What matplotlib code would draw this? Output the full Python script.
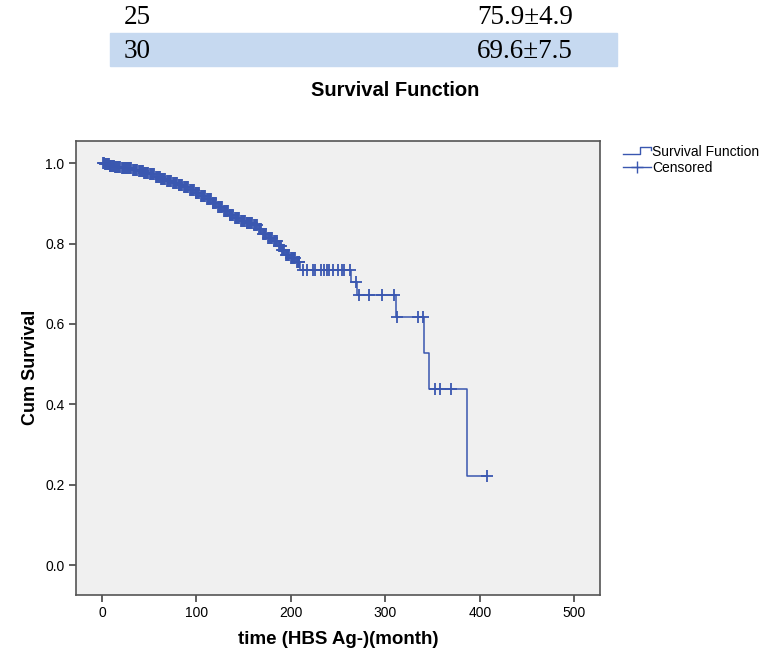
import numpy as np
import matplotlib
matplotlib.use('Agg')
import matplotlib.pyplot as plt
from matplotlib.lines import Line2D
from matplotlib.legend_handler import HandlerBase
from matplotlib.patches import Rectangle

# table rows shown above the chart
table_years = ['25', '30']
table_values = ['75.9\u00b14.9', '69.6\u00b17.5']

# Kaplan-Meier steps: event time (month) and survival after the event
event_t = [0, 3, 8, 14, 20, 26, 32, 38, 44, 50, 56, 62, 68, 74, 80, 86, 92, 98,
           104, 110, 116, 122, 128, 134, 140, 146, 152, 160, 165, 169, 175, 181,
           186, 190, 194, 199, 205, 210, 263, 270, 311, 341, 346, 386]
event_s = [1.0, 0.997, 0.994, 0.991, 0.989, 0.987, 0.984, 0.980, 0.976, 0.972,
           0.966, 0.960, 0.955, 0.951, 0.946, 0.940, 0.933, 0.926, 0.918, 0.910,
           0.901, 0.891, 0.881, 0.872, 0.864, 0.857, 0.852, 0.847, 0.836, 0.823,
           0.813, 0.806, 0.795, 0.785, 0.772, 0.765, 0.755, 0.734, 0.705, 0.671,
           0.616, 0.528, 0.439, 0.222]

# censored follow-up times (month)
censor_t = [1, 2, 3, 4, 5, 6, 7, 8, 9, 10, 11, 12, 13, 14, 15, 16, 17, 18, 19,
            21, 22, 23, 24, 25, 27, 28, 29, 30, 31, 33, 34, 35, 36, 37, 39, 40,
            41, 42, 43, 45, 46, 47, 48, 49, 51, 52, 53, 54, 55, 57, 58, 59, 60,
            61, 63, 64, 65, 66, 67, 69, 70, 71, 72, 73, 75, 76, 77, 78, 79, 81,
            82, 83, 84, 85, 87, 88, 89, 90, 91, 93, 94, 95, 96, 97, 99, 100, 101,
            102, 103, 105, 106, 107, 108, 109, 111, 112, 113, 114, 115, 117, 118,
            119, 120, 121, 123, 124, 125, 126, 127, 129, 130, 131, 132, 133, 135,
            136, 137, 138, 139, 141, 142, 143, 144, 145, 147, 148, 149, 150, 151,
            153, 154, 155, 156, 157, 158, 159, 161, 162, 163, 164, 166, 167, 168,
            170, 171, 172, 173, 174, 176, 177, 178, 179, 180, 182, 183, 184, 185,
            187, 188, 189, 191, 192, 193, 195, 196, 197, 198, 200, 201, 202, 203,
            204, 206, 207, 208, 209, 213, 217, 223, 225, 232, 235, 238, 240, 244,
            250, 254, 256, 262, 269, 272, 283, 296, 309, 312, 334, 340, 352, 358,
            369, 407]

col = '#3a57b0'


class HandlerStep(HandlerBase):
    def create_artists(self, legend, orig_handle, xdescent, ydescent,
                       width, height, fontsize, trans):
        x = np.array([0, 0.62, 0.62, 1.0, 1.0]) * width - xdescent
        y = np.array([0.2, 0.2, 0.85, 0.85, 0.55]) * height - ydescent
        ln = Line2D(x, y, color=col, lw=1.0, transform=trans)
        return [ln]


fig = plt.figure(figsize=(7.69, 6.48), dpi=100)

# table band and text
fig.patches.append(Rectangle((110 / 769, 1 - 66 / 648), (617 - 110) / 769, 33 / 648,
                             transform=fig.transFigure, color='#c6d9f0', zorder=0))
for i, (yr, val) in enumerate(zip(table_years, table_values)):
    yy = 1 - (17 + 34 * i) / 648
    fig.text(124 / 769, yy, yr, fontsize=19.5, family='Liberation Serif', va='center')
    fig.text(573 / 769, yy, val, fontsize=19.5, family='Liberation Serif', va='center', ha='right')

fig.text(395 / 769, 1 - 90 / 648, 'Survival Function', fontsize=14.5, fontweight='bold',
         family='Liberation Sans', ha='center', va='center')

ax = fig.add_axes([75.5 / 769, 1 - 594.5 / 648, (600 - 75.5) / 769, (594.5 - 141) / 648])
ax.set_facecolor('#f0f0f0')

last_t = censor_t[-1]
ax.step(event_t + [last_t], event_s + [event_s[-1]], where='post', color=col, lw=1.1)

idx = np.searchsorted(event_t, censor_t, side='right') - 1
censor_s = np.array(event_s)[idx]
ax.plot(censor_t, censor_s, '+', color=col, markersize=8.5, markeredgewidth=1.3)

ax.set_xlim(-28, 527)
ax.set_ylim(-0.073, 1.055)
ax.set_xticks([0, 100, 200, 300, 400, 500])
ax.set_yticks([0.0, 0.2, 0.4, 0.6, 0.8, 1.0])
ax.set_yticklabels(['0.0', '0.2', '0.4', '0.6', '0.8', '1.0'])
for lab in ax.get_xticklabels() + ax.get_yticklabels():
    lab.set_family('Liberation Sans')
    lab.set_fontsize(10)
ax.tick_params(direction='out', length=5, width=1.2, color='#444444', pad=3)
for s in ax.spines.values():
    s.set_color('#555555')
    s.set_linewidth(1.2)

ax.set_xlabel('time (HBS Ag-)(month)', fontsize=13.5, fontweight='bold', family='Liberation Sans',
              labelpad=8)
ax.set_ylabel('Cum Survival', fontsize=13, fontweight='bold', family='Liberation Sans',
              labelpad=4)

h_step = Line2D([], [], color=col)
h_cens = Line2D([], [], color=col, marker='+', markersize=8, lw=1.0)
fig.legend([h_step, h_cens], ['Survival Function', 'Censored'],
           handler_map={h_step: HandlerStep()},
           loc='upper left', bbox_to_anchor=(613 / 769, 1 - 135 / 648),
           frameon=False, prop={'family': 'Liberation Sans', 'size': 10},
           handlelength=2.0, handletextpad=0.1, labelspacing=0.15, borderpad=0.2)

fig.savefig('out.png', dpi=100)
